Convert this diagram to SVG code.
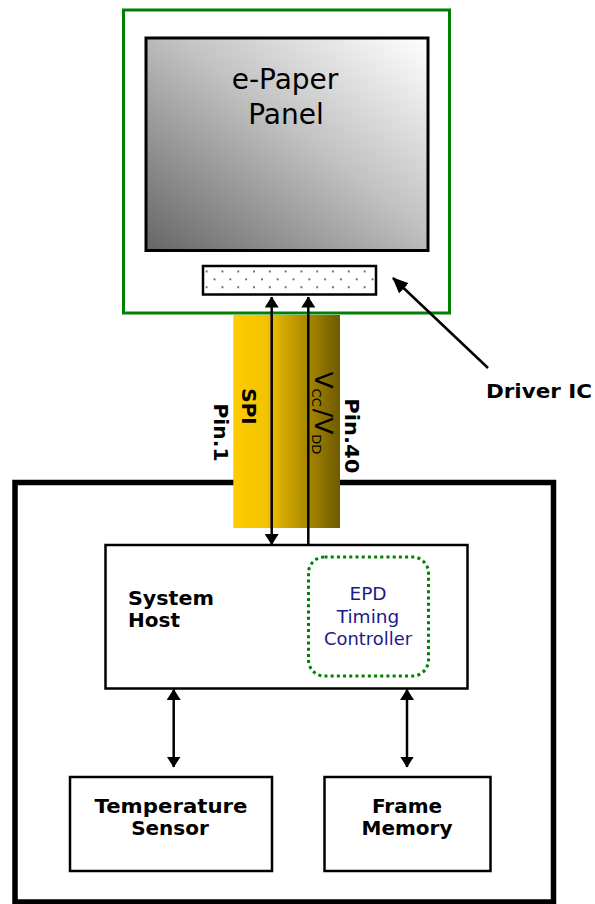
<svg xmlns="http://www.w3.org/2000/svg" width="595" height="904" viewBox="0 0 595 904">
<defs>
<linearGradient id="panelGrad" x1="0" y1="1" x2="1" y2="0">
<stop offset="0" stop-color="#666666"/>
<stop offset="0.55" stop-color="#c2c2c2"/>
<stop offset="1" stop-color="#ffffff"/>
</linearGradient>
<linearGradient id="cableGrad" x1="0" y1="0" x2="1" y2="0">
<stop offset="0" stop-color="#ffcc00"/>
<stop offset="0.3" stop-color="#f4c300"/>
<stop offset="1" stop-color="#6e5a00"/>
</linearGradient>
<pattern id="dots" width="15.8" height="15.8" patternUnits="userSpaceOnUse" x="202.7" y="267.5">
<rect x="0" y="0" width="15.8" height="15.8" fill="#ffffff"/>
<rect x="3" y="3" width="1.8" height="1.8" fill="#555"/>
<rect x="10.9" y="10.9" width="1.8" height="1.8" fill="#555"/>
</pattern>
<marker id="ah" viewBox="0 0 11 14" refX="10.5" refY="7" markerWidth="11" markerHeight="14" markerUnits="userSpaceOnUse" orient="auto-start-reverse">
<path d="M0,0 L11,7 L0,14 Z" fill="#000"/>
</marker>
<marker id="ahBig" viewBox="0 0 16 14" refX="15" refY="7" markerWidth="16" markerHeight="14" markerUnits="userSpaceOnUse" orient="auto">
<path d="M0,0 L16,7 L0,14 Z" fill="#000"/>
</marker>
</defs>
<style>
.box{fill:#fff;stroke:#000;stroke-width:2.5}
.bold{font-family:"DejaVu Sans","Verdana",sans-serif;font-weight:bold;font-size:20px;fill:#000}
.reg{font-family:"DejaVu Sans","Verdana",sans-serif;font-size:18.5px}
.big{font-size:28px;fill:#000}
.epd{fill:#1a1a8c}
.conn{stroke:#000;stroke-width:2.5;fill:none}
</style>

<g id="display-module">
<rect x="123.5" y="10" width="326" height="303" fill="#fff" stroke="#008000" stroke-width="3"/>
</g>
<g id="epaper-panel">
<rect x="146" y="38" width="282" height="212.5" fill="url(#panelGrad)" stroke="#000" stroke-width="3"/>
<text class="reg big" x="285" y="89" text-anchor="middle">e-Paper</text>
<text class="reg big" x="286" y="124" text-anchor="middle">Panel</text>
</g>
<g id="driver-ic">
<rect x="203" y="266" width="173" height="28.5" fill="url(#dots)" stroke="#000" stroke-width="2.5"/>
</g>

<g id="system-box">
<rect x="15" y="482.5" width="538.5" height="419.5" fill="#fff" stroke="#000" stroke-width="5.5"/>
</g>

<g id="fpc-cable">
<rect x="233.3" y="315" width="106.7" height="213" fill="url(#cableGrad)"/>
<text class="bold" transform="translate(242,406.5) rotate(90)" text-anchor="middle">SPI</text>
<text class="bold" transform="translate(213.5,432.5) rotate(90)" text-anchor="middle" textLength="58" lengthAdjust="spacingAndGlyphs">Pin.1</text>
<text class="bold" transform="translate(345.3,435.8) rotate(90)" text-anchor="middle" textLength="75" lengthAdjust="spacingAndGlyphs">Pin.40</text>
<text transform="translate(314.5,371.5) rotate(90)" font-family="DejaVu Sans, Verdana, sans-serif" font-size="25" fill="#000">V<tspan font-size="13" dy="3">CC</tspan><tspan dy="-3" dx="2">/V</tspan><tspan font-size="13" dy="3">DD</tspan></text>
</g>

<g id="system-host">
<rect class="box" x="105.5" y="545" width="362" height="143.5"/>
<text class="bold" x="128" y="604.5" textLength="86" lengthAdjust="spacingAndGlyphs">System</text>
<text class="bold" x="128" y="626.5">Host</text>
</g>
<g id="epd-timing-controller">
<rect x="308.5" y="557" width="120" height="119" rx="16" ry="16" fill="none" stroke="#008000" stroke-width="3" stroke-dasharray="3 3.2"/>
<text class="reg epd" x="368" y="600" text-anchor="middle">EPD</text>
<text class="reg epd" x="368" y="622.5" text-anchor="middle">Timing</text>
<text class="reg epd" x="368" y="644.5" text-anchor="middle" textLength="88" lengthAdjust="spacingAndGlyphs">Controller</text>
</g>
<g id="temperature-sensor">
<rect class="box" x="70" y="777" width="202" height="94"/>
<text class="bold" x="171" y="813" text-anchor="middle" textLength="153" lengthAdjust="spacingAndGlyphs">Temperature</text>
<text class="bold" x="170" y="835" text-anchor="middle">Sensor</text>
</g>
<g id="frame-memory">
<rect class="box" x="324.5" y="777" width="166" height="94"/>
<text class="bold" x="407" y="813" text-anchor="middle">Frame</text>
<text class="bold" x="407" y="835" text-anchor="middle">Memory</text>
</g>
<g id="driver-ic-label">
<text class="bold" x="486" y="398" textLength="106" lengthAdjust="spacingAndGlyphs">Driver IC</text>
</g>

<g id="connectors">
<line class="conn" x1="271.7" y1="297" x2="271.7" y2="544.5" marker-start="url(#ah)" marker-end="url(#ah)"/>
<line class="conn" x1="308.3" y1="545" x2="308.3" y2="297" marker-end="url(#ah)"/>
<line class="conn" x1="173.7" y1="689.5" x2="173.7" y2="767" marker-start="url(#ah)" marker-end="url(#ah)"/>
<line class="conn" x1="407" y1="689.5" x2="407" y2="767" marker-start="url(#ah)" marker-end="url(#ah)"/>
<line class="conn" x1="488" y1="368" x2="393" y2="278" marker-end="url(#ahBig)"/>
</g>
</svg>
